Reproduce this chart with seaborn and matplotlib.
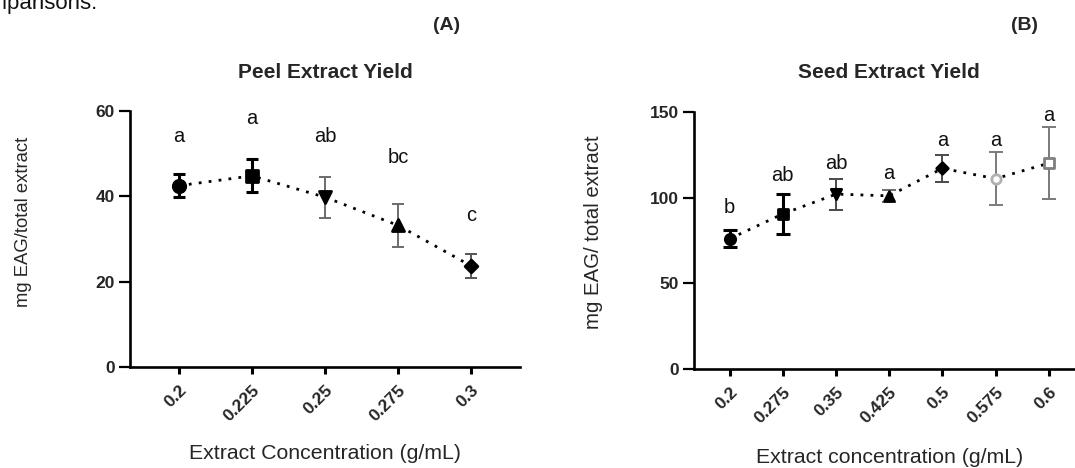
import numpy as np
import pandas as pd
import matplotlib
matplotlib.use("Agg")
import matplotlib.pyplot as plt
import seaborn as sns

# ---------------- data ----------------
peel_conc = ["0.2", "0.225", "0.25", "0.275", "0.3"]
peel_mean = [42.5, 44.8, 39.8, 33.2, 23.7]
peel_err = [2.7, 3.9, 4.8, 5.0, 2.8]
peel_letters = ["a", "a", "ab", "bc", "c"]
peel_letter_y = [54.1, 58.3, 54.0, 49.0, 35.4]

seed_conc = ["0.2", "0.275", "0.35", "0.425", "0.5", "0.575", "0.6"]
seed_mean = [76.0, 90.5, 102.0, 101.0, 117.0, 111.0, 120.0]
seed_err = [5.0, 11.8, 9.0, 3.5, 8.0, 15.5, 21.0]
seed_letters = ["b", "ab", "ab", "a", "a", "a", "a"]
seed_letter_y = [94.0, 112.8, 119.8, 114.0, 133.0, 133.0, 147.5]

# ---------------- style ----------------
sns.set_theme(style="ticks")
plt.rcParams["font.family"] = ["Liberation Sans", "DejaVu Sans"]

W, H = 1075, 468
fig = plt.figure(figsize=(W / 100, H / 100), dpi=100)


def px_ax(l, r, b, t):
    return fig.add_axes([l / W, 1 - b / H, (r - l) / W, (b - t) / H])


def draw_panel(ax, conc, mean, err, letters, letter_y, ylim, yticks,
               markers, mfc, mec, ecol, elw, msize, capsize, title, xlabel,
               ylabel, xlab_y, ylab_xy, ylab_size):
    n = len(conc)
    xpos = np.arange(n)
    df = pd.DataFrame({"x": xpos, "y": mean})
    sns.lineplot(data=df, x="x", y="y", ax=ax, color="black",
                 linestyle=(0, (1, 2.6)), linewidth=2.0, zorder=1)
    for i in range(n):
        ax.errorbar(xpos[i], mean[i], yerr=err[i], fmt="none",
                    ecolor=ecol[i], elinewidth=elw[i], capsize=capsize,
                    capthick=elw[i], zorder=2)
    for i in range(n):
        sub = df.iloc[[i]]
        sns.scatterplot(data=sub, x="x", y="y", ax=ax, marker=markers[i],
                        s=msize[i], color=mfc[i], edgecolor=mec[i],
                        linewidth=2.0, zorder=3, legend=False)
    for i in range(n):
        ax.text(xpos[i], letter_y[i], letters[i], ha="center", va="center",
                fontsize=14.5, color="#111111")
    ax.set_xlim(-0.67, n - 1 + 0.67)
    ax.set_ylim(*ylim)
    ax.set_yticks(yticks)
    ax.set_yticklabels([str(t) for t in yticks], fontsize=12.5,
                       fontweight="bold")
    ax.set_xticks(xpos)
    ax.set_xticklabels(conc, rotation=45, ha="right", rotation_mode="anchor",
                       fontsize=12.5, fontweight="bold")
    sns.despine(ax=ax)
    for s in ["left", "bottom"]:
        ax.spines[s].set_linewidth(1.9)
        ax.spines[s].set_color("black")
    ax.tick_params(axis="y", length=8, width=1.6, color="black", pad=3)
    ax.tick_params(axis="x", length=5, width=2.2, color="black", pad=6)
    ax.set_title(title, fontsize=15, fontweight="bold", pad=24)
    ax.set_xlabel(xlabel, fontsize=15.3)
    ax.set_ylabel(ylabel, fontsize=ylab_size)
    ax.xaxis.set_label_coords(0.5, xlab_y)
    ax.yaxis.set_label_coords(*ylab_xy)
    ax.grid(False)


# left panel
axA = px_ax(130, 520, 367, 111)
draw_panel(axA, peel_conc, peel_mean, peel_err, peel_letters, peel_letter_y,
           (0, 60), [0, 20, 40, 60],
           markers=["o", "s", "v", "^", "D"],
           mfc=["black"] * 5, mec=["black"] * 5,
           ecol=["black", "black", "#6b6b6b", "#6b6b6b", "#555555"],
           elw=[2.2, 2.2, 1.4, 1.4, 1.4],
           msize=[80, 65, 75, 75, 42], capsize=4,
           title="Peel Extract Yield",
           xlabel="Extract Concentration (g/mL)",
           ylabel="mg EAG/total extract",
           xlab_y=-0.30, ylab_xy=(-0.25, 0.566), ylab_size=13.3)

# right panel
axB = px_ax(694, 1084.4, 369.3, 111.7)
draw_panel(axB, seed_conc, seed_mean, seed_err, seed_letters, seed_letter_y,
           (0, 150), [0, 50, 100, 150],
           markers=["o", "s", "v", "^", "D", "o", "s"],
           mfc=["black"] * 5 + ["white", "white"],
           mec=["black"] * 5 + ["#b0b0b0", "#7f7f7f"],
           ecol=["black", "black", "#4a4a4a", "#6e6e6e", "#4a4a4a",
                 "#7a7a7a", "#7a7a7a"],
           elw=[2.2, 2.2, 1.4, 1.4, 1.4, 1.4, 1.4],
           msize=[55, 55, 55, 50, 35, 45, 45], capsize=5,
           title="Seed Extract Yield",
           xlabel="Extract concentration (g/mL)",
           ylabel="mg EAG/ total extract",
           xlab_y=-0.305, ylab_xy=(-0.233, 0.533), ylab_size=14.7)

# panel tags and cropped caption text
fig.text(447 / W, 1 - 25 / H, "(A)", ha="center", va="center",
         fontsize=14, fontweight="bold")
fig.text(1024 / W, 1 - 25 / H, "(B)", ha="center", va="center",
         fontsize=14, fontweight="bold")
fig.text(97 / W, 1 - 9 / H, "comparisons.", ha="right", va="baseline",
         fontsize=16, color="#111111")

fig.savefig("out.png", dpi=100)
